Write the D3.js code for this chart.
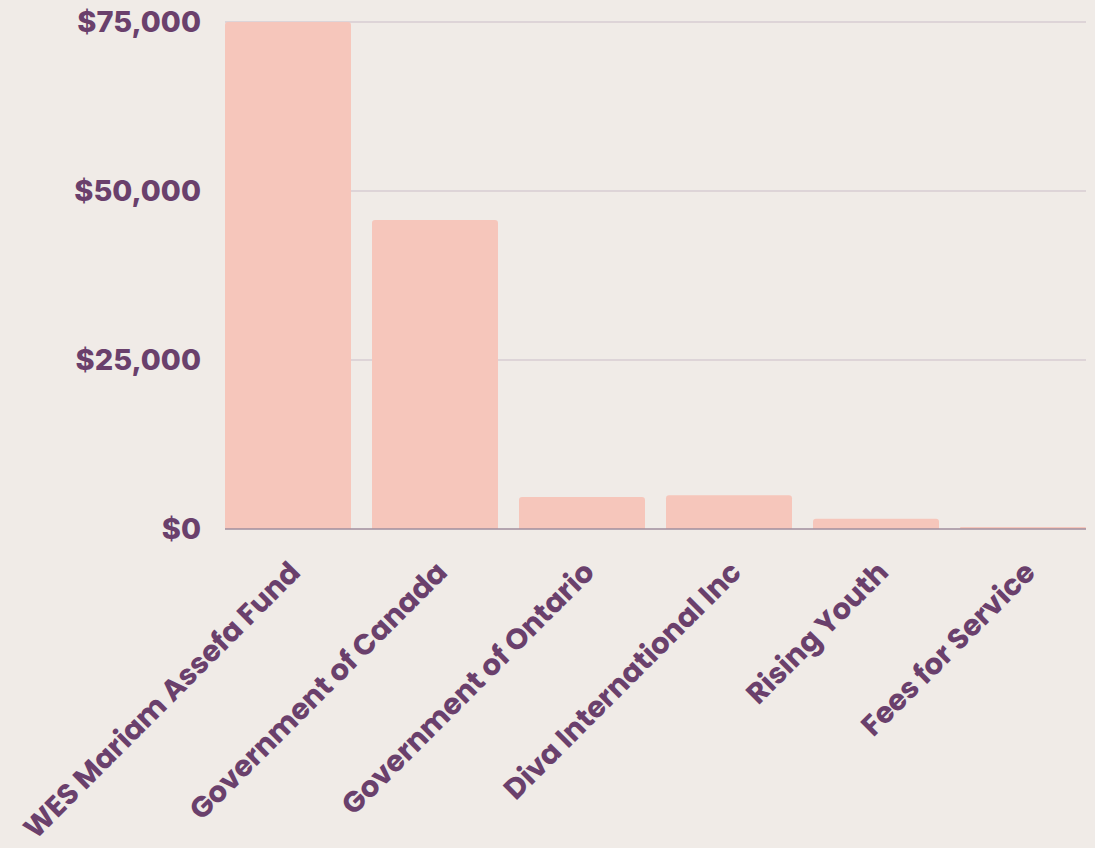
<!DOCTYPE html>
<html>
<head>
<meta charset="utf-8">
<script src="https://cdn.jsdelivr.net/npm/d3@7"></script>
<style>
  html, body { margin: 0; padding: 0; background: #F0EBE7; }
  svg text { font-family: "Poppins", "Open Sans", "Noto Sans", sans-serif; font-weight: 700; fill: #6A406C; }
  svg .y.axis text { font-family: "Inter", "Noto Sans", sans-serif; font-weight: 800; }
</style>
</head>
<body>
<div id="graph"></div>
<script>
// funding sources and amounts
const categories = ["WES Mariam Assefa Fund", "Government of Canada", "Government of Ontario",
  "Diva International Inc", "Rising Youth", "Fees for Service"];
const amounts = [75000, 45700, 4750, 5000, 1500, 300];
const yTicks = [0, 25000, 50000, 75000];

const width = 1095, height = 848;
const padding = {left: 225, right: 9, top: 22, bottom: 319};

let graph = d3.select("div#graph")
  .append("svg")
  .attr("width", width)
  .attr("height", height);

let xScale = d3.scaleBand()
  .domain(categories)
  .range([padding.left, width - padding.right])
  .paddingInner(0.143)
  .paddingOuter(0);

let yScale = d3.scaleLinear()
  .domain([0, 75000])
  .range([height - padding.bottom, padding.top]);

// gridlines
graph.append("g")
  .selectAll("line")
  .data(yTicks.filter(d => d > 0))
  .join("line")
  .attr("x1", padding.left)
  .attr("x2", width - padding.right)
  .attr("y1", d => yScale(d))
  .attr("y2", d => yScale(d))
  .attr("stroke", "#CBBDC8")
  .attr("stroke-width", 1);

// bars, with rounded tops only
const r = 3;
graph.append("g")
  .selectAll("path")
  .data(categories.map((c, i) => ({cat: c, val: amounts[i]})))
  .join("path")
  .attr("fill", "#F6C6BB")
  .attr("d", d => {
    const x0 = xScale(d.cat), w = xScale.bandwidth();
    const y0 = yScale(d.val), yb = yScale(0);
    const rr = Math.min(r, (yb - y0) / 2);
    return `M${x0},${yb}V${y0 + rr}Q${x0},${y0} ${x0 + rr},${y0}H${x0 + w - rr}Q${x0 + w},${y0} ${x0 + w},${y0 + rr}V${yb}Z`;
  });

// baseline
graph.append("line")
  .attr("x1", padding.left)
  .attr("x2", width - padding.right)
  .attr("y1", yScale(0))
  .attr("y2", yScale(0))
  .attr("stroke", "#A08E9E")
  .attr("stroke-width", 1.5);

// y axis labels
let yAxis = d3.axisLeft(yScale)
  .tickValues(yTicks)
  .tickFormat(d => "$" + d3.format(",")(d))
  .tickSize(0)
  .tickPadding(24);

graph.append("g")
  .attr("class", "y axis")
  .attr("transform", `translate(${padding.left}, 0)`)
  .call(yAxis)
  .call(g => g.select(".domain").remove())
  .selectAll("text")
  .attr("font-size", 29);

// x labels, rotated
graph.append("g")
  .selectAll("text")
  .data(categories)
  .join("text")
  .attr("text-anchor", "end")
  .attr("font-size", 29)
  .attr("transform", d => `translate(${xScale(d) + xScale.bandwidth() / 2 + 14}, 574) rotate(-45)`)
  .text(d => d);
</script>
</body>
</html>
